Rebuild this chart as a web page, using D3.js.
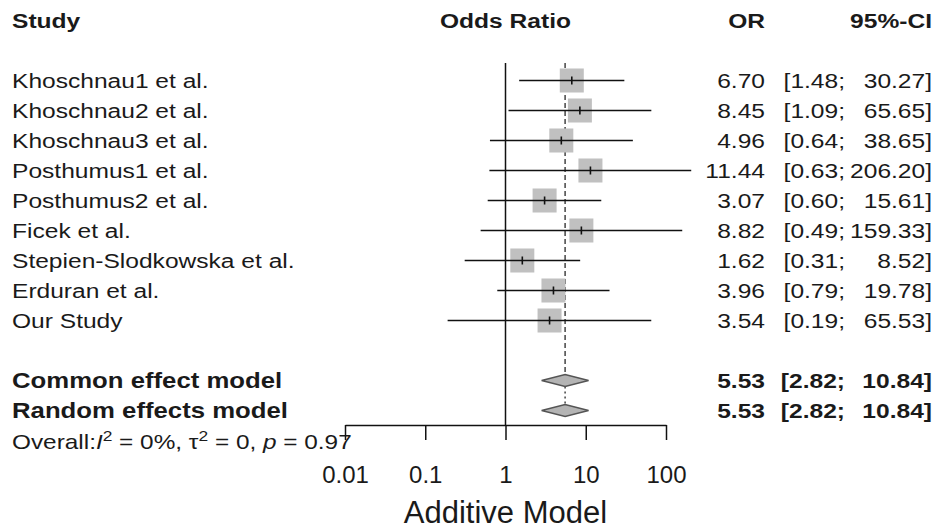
<!DOCTYPE html>
<html>
<head>
<meta charset="utf-8">
<script src="https://cdn.jsdelivr.net/npm/d3@7"></script>
<style>
    body { margin: 0; background: #fff; }
    text { font-family: "Liberation Sans", Arial, sans-serif; fill: #1a1a1a; }
</style>
</head>
<body>
<div id="forest"></div>
<script>
// Forest plot - Additive Model

const studies = [
    'Khoschnau1 et al.', 'Khoschnau2 et al.', 'Khoschnau3 et al.',
    'Posthumus1 et al.', 'Posthumus2 et al.', 'Ficek et al.',
    'Stepien-Slodkowska et al.', 'Erduran et al.', 'Our Study'
];
const orValues = [6.70, 8.45, 4.96, 11.44, 3.07, 8.82, 1.62, 3.96, 3.54];
const ciLower = [1.48, 1.09, 0.64, 0.63, 0.60, 0.49, 0.31, 0.79, 0.19];
const ciUpper = [30.27, 65.65, 38.65, 206.20, 15.61, 159.33, 8.52, 19.78, 65.53];

const models = ['Common effect model', 'Random effects model'];
const modelOR = [5.53, 5.53];
const modelLower = [2.82, 2.82];
const modelUpper = [10.84, 10.84];

const axisTicks = [0.01, 0.1, 1, 10, 100];

function createForestPlot() {
    const width = 942, height = 529;
    const svg = d3.select('#forest').append('svg')
        .attr('width', width)
        .attr('height', height);

    const x = d3.scaleLog().domain([0.01, 100]).range([345, 666]);
    // row index -> centre y (studies 0..8, blank row 9, models 10..11)
    const y = d3.scaleLinear().domain([0, 11]).range([80.5, 410.5]);
    const axisY = 425;
    const sx = 1.17;

    // column anchors
    const colOR = 765, colSemi = 845, colEnd = 932;

    // text helper, stretched a bit horizontally like the original
    function txt(xp, yp, s, opt = {}) {
        return svg.append('text')
            .attr('transform', `translate(${xp},${yp}) scale(${opt.sx || sx},1)`)
            .attr('text-anchor', opt.anchor || 'start')
            .attr('font-size', (opt.size || 21) + 'px')
            .attr('font-weight', opt.weight || 'normal')
            .text(s);
    }

    // Headers
    txt(12, 28, 'Study', { weight: 'bold' });
    txt(x(1), 28, 'Odds Ratio', { weight: 'bold', anchor: 'middle' });
    txt(colOR, 28, 'OR', { weight: 'bold', anchor: 'end' });
    txt(colEnd, 28, '95%-CI', { weight: 'bold', anchor: 'end' });

    // Reference lines
    svg.append('line')
        .attr('x1', x(1)).attr('x2', x(1))
        .attr('y1', 63).attr('y2', axisY)
        .attr('stroke', '#111').attr('stroke-width', 1.5);

    svg.append('line')
        .attr('x1', x(modelOR[0])).attr('x2', x(modelOR[0]))
        .attr('y1', 63).attr('y2', y(10) - 6)
        .attr('stroke', '#444').attr('stroke-width', 1.5)
        .attr('stroke-dasharray', '5,3');

    svg.append('line')
        .attr('x1', x(modelOR[1])).attr('x2', x(modelOR[1]))
        .attr('y1', y(10) + 6).attr('y2', y(11) - 6)
        .attr('stroke', '#444').attr('stroke-width', 1.5)
        .attr('stroke-dasharray', '2,3');

    // Study rows
    const rows = svg.selectAll('.study')
        .data(studies.map((s, i) => ({ s, i, or: orValues[i], lo: ciLower[i], hi: ciUpper[i] })))
        .enter()
        .append('g')
        .attr('class', 'study');

    rows.append('rect')
        .attr('x', d => x(d.or) - 12)
        .attr('y', d => y(d.i) - 12)
        .attr('width', 24)
        .attr('height', 24)
        .attr('fill', '#c0c0c0');

    rows.append('line')
        .attr('x1', d => x(d.lo))
        .attr('x2', d => x(d.hi))
        .attr('y1', d => y(d.i))
        .attr('y2', d => y(d.i))
        .attr('stroke', '#111')
        .attr('stroke-width', 1.6);

    rows.append('line')
        .attr('x1', d => x(d.or))
        .attr('x2', d => x(d.or))
        .attr('y1', d => y(d.i) - 4)
        .attr('y2', d => y(d.i) + 4)
        .attr('stroke', '#111')
        .attr('stroke-width', 1.6);

    studies.forEach((s, i) => {
        const yb = y(i) + 7.5;
        txt(12, yb, s);
        txt(colOR, yb, orValues[i].toFixed(2), { anchor: 'end' });
        txt(colSemi, yb, `[${ciLower[i].toFixed(2)};`, { anchor: 'end' });
        txt(colEnd, yb, `${ciUpper[i].toFixed(2)}]`, { anchor: 'end' });
    });

    // Summary diamonds
    models.forEach((m, k) => {
        const row = 10 + k;
        const cy = y(row);
        const pts = [
            [x(modelLower[k]), cy],
            [x(modelOR[k]), cy - 6],
            [x(modelUpper[k]), cy],
            [x(modelOR[k]), cy + 6]
        ];
        svg.append('polygon')
            .attr('points', pts.map(p => p.join(',')).join(' '))
            .attr('fill', '#b4b4b4')
            .attr('stroke', '#555')
            .attr('stroke-width', 1.5);

        const yb = cy + 7.5;
        txt(12, yb, m, { weight: 'bold', size: 22, sx: 1.17 });
        txt(colOR, yb, modelOR[k].toFixed(2), { anchor: 'end', weight: 'bold' });
        txt(colSemi, yb, `[${modelLower[k].toFixed(2)};`, { anchor: 'end', weight: 'bold' });
        txt(colEnd, yb, `${modelUpper[k].toFixed(2)}]`, { anchor: 'end', weight: 'bold' });
    });

    // Heterogeneity line
    const het = txt(12, 449, '', { size: 21, sx: 1.16 });
    het.append('tspan').text('Overall:');
    het.append('tspan').attr('font-style', 'italic').text('I');
    het.append('tspan').attr('font-size', '15px').attr('dy', -8).text('2');
    het.append('tspan').attr('dy', 8).text(' = 0%, \u03c4');
    het.append('tspan').attr('font-size', '15px').attr('dy', -8).text('2');
    het.append('tspan').attr('dy', 8).text(' = 0, ');
    het.append('tspan').attr('font-style', 'italic').text('p');
    het.append('tspan').text(' = 0.97');

    // Axis
    const axis = svg.append('g')
        .attr('transform', `translate(0,${axisY})`)
        .call(d3.axisBottom(x)
            .tickValues(axisTicks)
            .tickFormat(d => String(d))
            .tickSize(15)
            .tickSizeOuter(0));

    axis.select('.domain').attr('stroke', '#111').attr('stroke-width', 1.5);
    axis.selectAll('.tick line').attr('stroke', '#111').attr('stroke-width', 1.5);
    axis.selectAll('.tick text')
        .attr('font-family', '"Liberation Sans", Arial, sans-serif')
        .attr('font-size', '24px')
        .attr('fill', '#1a1a1a')
        .attr('y', 0)
        .attr('dy', '58px');

    svg.append('text')
        .attr('x', x(1))
        .attr('y', 523)
        .attr('text-anchor', 'middle')
        .attr('font-size', '31px')
        .text('Additive Model');
}

createForestPlot();
</script>
</body>
</html>
